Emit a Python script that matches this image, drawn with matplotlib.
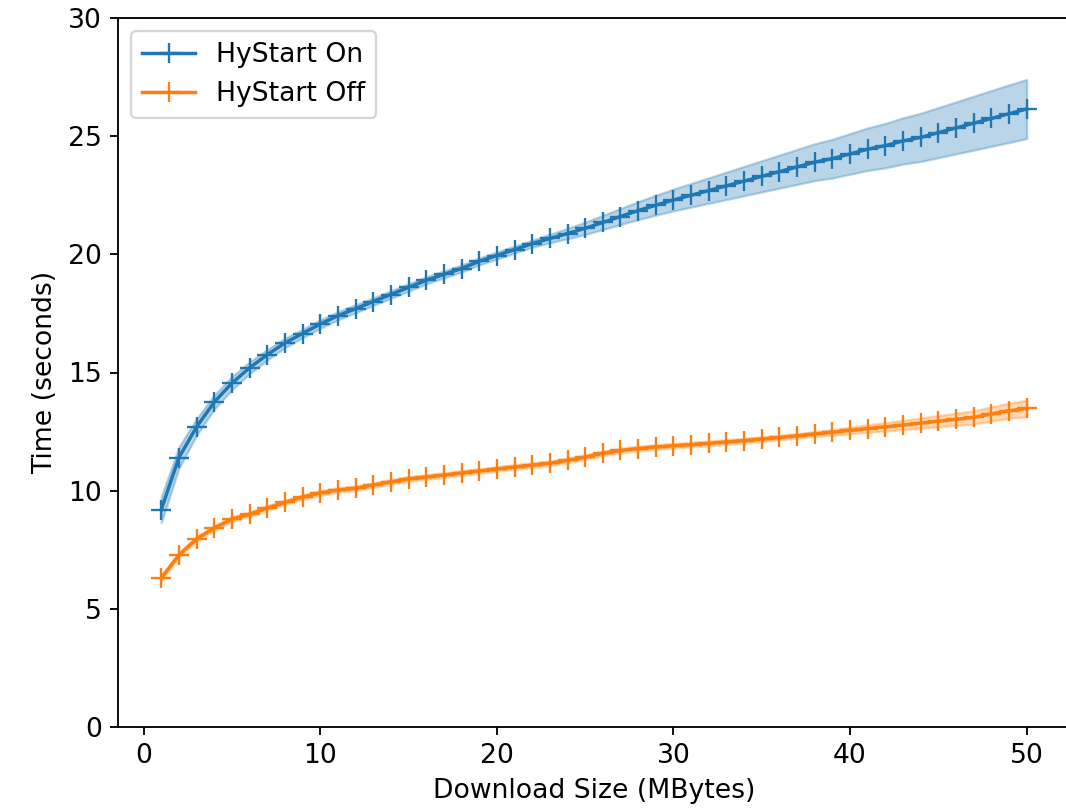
import numpy as np
import matplotlib.pyplot as plt

plt.rcParams['font.size'] = 11.5

# download size (MBytes)
sizes = list(range(1, 51))

# HyStart On: mean time and half-width of shaded band
on_mean = [9.2, 11.4, 12.7, 13.75, 14.55, 15.2, 15.75, 16.25, 16.65, 17.05,
           17.4, 17.7, 18.0, 18.3, 18.6, 18.9, 19.15, 19.4, 19.7, 19.95,
           20.2, 20.45, 20.67, 20.88, 21.1, 21.35, 21.6, 21.85, 22.08, 22.3,
           22.5, 22.7, 22.9, 23.1, 23.3, 23.5, 23.7, 23.9, 24.05, 24.25,
           24.45, 24.6, 24.8, 24.95, 25.15, 25.35, 25.55, 25.75, 25.95, 26.15]
on_err = [0.55, 0.45, 0.35, 0.3, 0.28, 0.25, 0.22, 0.2, 0.18, 0.18,
          0.17, 0.17, 0.16, 0.16, 0.16, 0.15, 0.15, 0.15, 0.15, 0.15,
          0.15, 0.15, 0.18, 0.22, 0.26, 0.3, 0.34, 0.38, 0.42, 0.46,
          0.5, 0.54, 0.58, 0.62, 0.66, 0.7, 0.74, 0.78, 0.82, 0.86,
          0.9, 0.94, 0.98, 1.02, 1.06, 1.1, 1.14, 1.18, 1.22, 1.25]

# HyStart Off
off_mean = [6.3, 7.28, 7.96, 8.42, 8.8, 9.0, 9.27, 9.5, 9.73, 9.9,
            10.03, 10.1, 10.24, 10.37, 10.5, 10.58, 10.66, 10.75, 10.83, 10.92,
            11.0, 11.08, 11.16, 11.28, 11.42, 11.58, 11.7, 11.78, 11.85, 11.9,
            11.95, 12.0, 12.06, 12.12, 12.18, 12.25, 12.32, 12.4, 12.47, 12.55,
            12.63, 12.7, 12.78, 12.86, 12.94, 13.02, 13.1, 13.25, 13.38, 13.48]
off_err = [0.12, 0.1, 0.1, 0.1, 0.1, 0.1, 0.1, 0.1, 0.1, 0.1,
           0.1, 0.1, 0.1, 0.1, 0.1, 0.1, 0.1, 0.1, 0.1, 0.1,
           0.1, 0.1, 0.1, 0.1, 0.1, 0.1, 0.1, 0.1, 0.1, 0.1,
           0.1, 0.1, 0.1, 0.1, 0.1, 0.1, 0.1, 0.1, 0.12, 0.14,
           0.16, 0.18, 0.2, 0.22, 0.24, 0.26, 0.28, 0.3, 0.32, 0.35]

x = np.array(sizes)
fig = plt.figure(figsize=(1066 / 166.6, 809 / 166.6), dpi=166.6)
ax = fig.add_axes([118 / 1066, 82 / 809, 952 / 1066, 709 / 809])

for mean, err, label, color in [(on_mean, on_err, "HyStart On", "tab:blue"),
                                (off_mean, off_err, "HyStart Off", "tab:orange")]:
    mean = np.array(mean)
    err = np.array(err)
    ax.plot(x, mean, marker="+", markersize=9, color=color, label=label)
    ax.fill_between(x, mean - err, mean + err, color=color, alpha=0.3)

ax.set_ylim(0, 30)
ax.set_xlabel("Download Size (MBytes)")
ax.set_ylabel("Time (seconds)")
ax.legend(loc="upper left")

fig.savefig("out.png", dpi=166.6)
plt.close(fig)
